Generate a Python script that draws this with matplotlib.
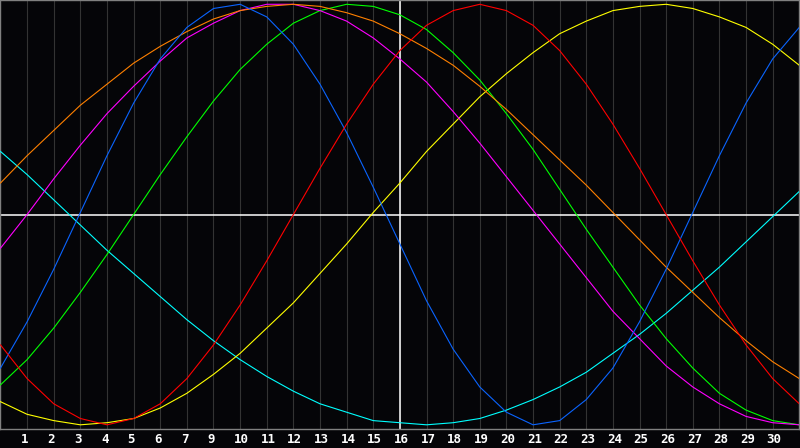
import matplotlib
matplotlib.use("Agg")
import matplotlib.pyplot as plt
import matplotlib.transforms as mtransforms

# day index 0..30 across the chart, value of each cycle
days = list(range(31))
red = [-0.62, -0.78, -0.90, -0.97, -1.00, -0.97, -0.90, -0.78, -0.62, -0.43, -0.22, 0.00, 0.22, 0.43, 0.62, 0.78,
       0.90, 0.97, 1.00, 0.97, 0.90, 0.78, 0.62, 0.43, 0.22, 0.00, -0.22, -0.43, -0.62, -0.78, -0.90]
green = [-0.81, -0.69, -0.54, -0.37, -0.19, 0.00, 0.19, 0.37, 0.54, 0.69, 0.81, 0.91, 0.97, 1.00, 0.99, 0.95,
         0.88, 0.77, 0.64, 0.48, 0.31, 0.12, -0.07, -0.25, -0.43, -0.59, -0.73, -0.85, -0.93, -0.98, -1.00]
blue = [-0.73, -0.51, -0.26, 0.01, 0.28, 0.53, 0.74, 0.89, 0.98, 1.00, 0.94, 0.81, 0.62, 0.39, 0.13, -0.14,
        -0.41, -0.64, -0.82, -0.94, -1.00, -0.98, -0.88, -0.73, -0.51, -0.26, 0.01, 0.28, 0.53, 0.74, 0.89]
yellow = [-0.89, -0.95, -0.98, -1.00, -0.99, -0.97, -0.92, -0.85, -0.76, -0.66, -0.54, -0.42, -0.28, -0.14, 0.01, 0.15,
          0.30, 0.43, 0.56, 0.67, 0.77, 0.86, 0.92, 0.97, 0.99, 1.00, 0.98, 0.94, 0.89, 0.81, 0.71]
cyan = [0.30, 0.19, 0.07, -0.05, -0.17, -0.28, -0.39, -0.50, -0.60, -0.69, -0.77, -0.84, -0.90, -0.94, -0.98, -0.99,
        -1.00, -0.99, -0.97, -0.93, -0.88, -0.82, -0.75, -0.66, -0.57, -0.47, -0.36, -0.25, -0.13, -0.01, 0.11]
magenta = [-0.16, 0.00, 0.17, 0.33, 0.48, 0.61, 0.73, 0.84, 0.91, 0.97, 1.00, 1.00, 0.97, 0.92, 0.84, 0.74,
           0.63, 0.49, 0.34, 0.18, 0.02, -0.14, -0.30, -0.46, -0.59, -0.72, -0.82, -0.90, -0.96, -0.99, -1.00]
orange = [0.15, 0.28, 0.40, 0.52, 0.62, 0.72, 0.80, 0.87, 0.93, 0.97, 0.99, 1.00, 0.99, 0.96, 0.92, 0.86,
          0.79, 0.71, 0.61, 0.50, 0.38, 0.26, 0.14, 0.01, -0.12, -0.25, -0.37, -0.49, -0.60, -0.70, -0.78]

tick_pos = list(range(1, 30))
tick_labels = ["1", "2", "3", "4", "5", "6", "7", "9", "10", "11", "12", "13", "14", "15", "16",
               "17", "18", "19", "20", "21", "22", "23", "24", "25", "26", "27", "28", "29", "30"]
today = 15

bg = "#050508"
fig = plt.figure(figsize=(8, 4.48), dpi=100, facecolor=bg)
ax = fig.add_axes([0.0006, 19.4 / 448, 0.9985, 428.1 / 448], facecolor=bg)

for d in tick_pos:
    ax.axvline(d, color="#333333", lw=0.8, zorder=1)
ax.axhline(0, color="white", lw=1.1, zorder=2)
ax.axvline(today, color="white", lw=1.1, zorder=2)

series = [(cyan, "#00ffff"), (yellow, "#ffff00"), (green, "#00ff00"), (magenta, "#ff00ff"),
          (orange, "#ff8000"), (blue, "#0a64ff"), (red, "#ff0000")]
for vals, c in series:
    ax.plot(days, vals, color=c, lw=0.8, zorder=3)

ax.set_xlim(0, 30)
ax.set_ylim(-1.018, 1.018)
ax.set_xticks([])
ax.set_yticks([])
for sp in ax.spines.values():
    sp.set_color("#808080")
    sp.set_linewidth(1.0)

# day labels sit just under the axis, left edge a few pixels before each grid line
trans = mtransforms.blended_transform_factory(ax.transData, ax.transAxes) + \
    mtransforms.ScaledTranslation(-6 / 100, 0, fig.dpi_scale_trans)
for p, lab in zip(tick_pos, tick_labels):
    ax.text(p, -0.025, lab, transform=trans, ha="left", va="center", color="white",
            fontsize=9, fontweight="bold", family="DejaVu Sans Mono")

fig.savefig("out.png", dpi=100, facecolor=bg)
